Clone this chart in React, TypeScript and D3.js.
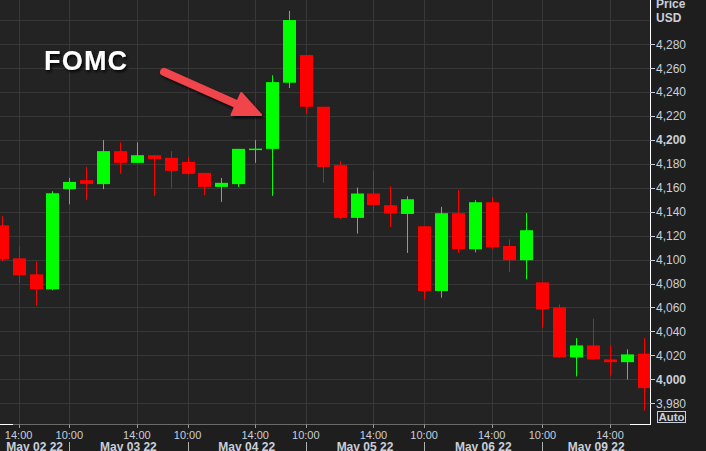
import React from "react";
import * as d3 from "d3";

// ---- data ----
const days = ["May 02 22", "May 03 22", "May 04 22", "May 05 22", "May 06 22", "May 09 22"];
const hours = ["10:00", "11:00", "12:00", "13:00", "14:00", "15:00", "16:00"];
const firstIndex = 3; // first visible candle = May 02, 13:00
const opens = [4128.7, 4101.1, 4087.7, 4075.2, 4158.9, 4166.4, 4163.1, 4190.7, 4180.9, 4187.3, 4185.1, 4181.7, 4172.5, 4160.8, 4163.1, 4192.3, 4192.6, 4247.9, 4271.0, 4227.8, 4179.0, 4134.9, 4155.3, 4145.5, 4138.2, 4127.9, 4073.8, 4138.8, 4108.7, 4148.0, 4111.4, 4099.5, 4081.0, 4060.1, 4018.3, 4028.3, 4016.6, 4014.3, 4021.4];
const highs = [4136.3, 4111.2, 4098.6, 4157.2, 4168.3, 4177.5, 4199.9, 4198.0, 4198.0, 4187.3, 4190.7, 4185.9, 4172.5, 4168.3, 4192.6, 4199.9, 4254.1, 4307.9, 4271.0, 4227.8, 4182.3, 4160.3, 4174.2, 4161.4, 4153.0, 4127.9, 4144.1, 4158.0, 4149.7, 4152.4, 4117.0, 4139.0, 4081.0, 4062.6, 4034.4, 4050.7, 4028.6, 4025.0, 4034.4];
const lows = [4098.4, 4080.2, 4061.8, 4074.4, 4146.3, 4149.7, 4158.9, 4171.7, 4180.9, 4153.3, 4160.1, 4171.0, 4153.9, 4148.3, 4160.8, 4180.9, 4153.3, 4243.4, 4222.2, 4164.2, 4134.0, 4121.8, 4139.9, 4127.3, 4105.6, 4066.8, 4068.2, 4105.6, 4106.1, 4109.0, 4089.7, 4083.5, 4042.8, 4018.0, 4002.4, 4016.0, 4002.6, 3999.8, 3973.9];
const closes = [4100.3, 4086.9, 4075.2, 4155.5, 4165.0, 4163.3, 4190.7, 4180.9, 4187.3, 4184.2, 4174.2, 4171.7, 4160.8, 4164.2, 4192.6, 4192.8, 4248.4, 4300.3, 4227.8, 4177.5, 4134.9, 4155.3, 4145.7, 4138.5, 4150.5, 4073.8, 4138.8, 4108.7, 4148.0, 4110.3, 4099.5, 4124.6, 4058.4, 4018.3, 4028.3, 4016.6, 4014.3, 4020.8, 3992.6];
const priceTicks = [3980, 4000, 4020, 4040, 4060, 4080, 4100, 4120, 4140, 4160, 4180, 4200, 4220, 4240, 4260, 4280];
const boldTicks = [4000, 4200];
const gridValues = [...priceTicks, 4300];
const timeLabels = ["14:00", "10:00"];
const annotation = "FOMC";
const annotatedCandle = 19;

const W = 706, H = 451;
const plotRight = 650, plotBottom = 424.5;

export default function App() {
  const x = d3.scaleLinear().domain([7, 39]).range([69.3, 610]);
  const y = d3.scaleLinear().domain([3980, 4280]).range([403.2, 44.3]);
  const fmt = d3.format(",");

  const candles = opens.map((o, i) => ({
    idx: firstIndex + i,
    o, h: highs[i], l: lows[i], c: closes[i],
  }));

  // time ticks (10:00 and 14:00 of each day)
  const timeTicks: { idx: number; label: string }[] = [];
  days.forEach((_, d) => {
    timeLabels.forEach((t) => {
      const idx = d * hours.length + hours.indexOf(t);
      if (x(idx) >= 0 && x(idx) <= plotRight) timeTicks.push({ idx, label: t });
    });
  });
  const dayBounds = days.map((_, d) => d * hours.length);

  const labelColor = "#c9cfda";
  const font = "'Liberation Sans', Arial, sans-serif";

  // arrow geometry (anchored to annotated candle)
  const tip = [x(annotatedCandle) - 11, y(4221)];
  const start = [x(annotatedCandle) - 108, y(4257)];
  const dx = tip[0] - start[0], dy = tip[1] - start[1];
  const len = Math.hypot(dx, dy);
  const ux = dx / len, uy = dy / len;
  const headL = 27, headW = 12;
  const base = [tip[0] - ux * headL, tip[1] - uy * headL];
  const shaftEnd = [tip[0] - ux * (headL - 4), tip[1] - uy * (headL - 4)];
  const head = [
    tip,
    [base[0] - uy * headW, base[1] + ux * headW],
    [base[0] + uy * headW, base[1] - ux * headW],
  ];

  return (
    <svg width={W} height={H} style={{ position: "fixed", left: 0, top: 0, display: "block" }}>
      <defs>
        <clipPath id="plot">
          <rect x={0} y={0} width={plotRight} height={plotBottom} />
        </clipPath>
        <filter id="shadow" x="-20%" y="-20%" width="140%" height="160%">
          <feDropShadow dx="1.5" dy="2" stdDeviation="1.8" floodColor="#000" floodOpacity="0.9" />
        </filter>
      </defs>
      <rect width={W} height={H} fill="#1e1e1e" />
      <rect width={plotRight} height={plotBottom} fill="#232323" />
      <g clipPath="url(#plot)">
        {gridValues.map((v) => (
          <line key={"h" + v} x1={0} x2={plotRight} y1={Math.round(y(v)) + 0.5} y2={Math.round(y(v)) + 0.5} stroke="#383838" />
        ))}
        {timeTicks.map((t) => (
          <line key={"v" + t.idx} x1={Math.round(x(t.idx)) + 0.5} x2={Math.round(x(t.idx)) + 0.5} y1={0} y2={plotBottom} stroke="#383838" />
        ))}
        {candles.map((c) => {
          const up = c.c >= c.o;
          const col = up ? "#00ff00" : "#ff0000";
          const cx = Math.round(x(c.idx));
          const top = y(Math.max(c.o, c.c));
          const bot = y(Math.min(c.o, c.c));
          return (
            <g key={c.idx}>
              <line x1={cx + 0.5} x2={cx + 0.5} y1={y(c.h)} y2={y(c.l)} stroke={col} strokeWidth={1} />
              <rect x={cx - 6} y={top} width={13} height={Math.max(bot - top, 1.5)} fill={col} />
            </g>
          );
        })}
        <g filter="url(#shadow)">
          <line x1={start[0]} y1={start[1]} x2={shaftEnd[0]} y2={shaftEnd[1]} stroke="#ef454c" strokeWidth={8} strokeLinecap="round" />
          <polygon points={head.map((p) => p.join(",")).join(" ")} fill="#ef454c" stroke="#ef454c" strokeWidth={2} strokeLinejoin="round" />
        </g>
        <text x={44} y={70} fill="#ffffff" fontFamily={font} fontWeight="bold" fontSize={27} letterSpacing={1.2} filter="url(#shadow)">
          {annotation}
        </text>
      </g>

      {/* right axis */}
      <line x1={plotRight + 0.5} x2={plotRight + 0.5} y1={0} y2={plotBottom} stroke="#ffffff" />
      {priceTicks.map((v) => (
        <g key={"t" + v}>
          <line x1={plotRight} x2={plotRight + 5} y1={Math.round(y(v)) + 0.5} y2={Math.round(y(v)) + 0.5} stroke="#c9cfda" />
          <text x={plotRight + 6} y={y(v)} dy="0.36em" fill={labelColor} fontFamily={font} fontSize={12}
            fontWeight={boldTicks.includes(v) ? "bold" : "normal"}>
            {fmt(v)}
          </text>
        </g>
      ))}
      <text x={656} y={8} fill={labelColor} fontFamily={font} fontSize={12} fontWeight="bold">Price</text>
      <text x={656} y={21.5} fill={labelColor} fontFamily={font} fontSize={12} fontWeight="bold">USD</text>
      <rect x={657.5} y={411.5} width={28} height={11} fill="none" stroke={labelColor} />
      <text x={671.5} y={421} textAnchor="middle" fill={labelColor} fontFamily={font} fontSize={11.5} fontWeight="bold">Auto</text>

      {/* bottom axis */}
      <line x1={0} x2={plotRight} y1={plotBottom} y2={plotBottom} stroke="#6a6a6a" />
      <line x1={0} x2={13} y1={plotBottom} y2={plotBottom} stroke="#ffffff" />
      <line x1={630} x2={plotRight + 1} y1={plotBottom} y2={plotBottom} stroke="#ffffff" />
      {timeTicks.map((t) => (
        <g key={"tt" + t.idx}>
          <line x1={Math.round(x(t.idx)) + 0.5} x2={Math.round(x(t.idx)) + 0.5} y1={plotBottom} y2={plotBottom + 3.5} stroke="#9a9a9a" />
          <text x={x(t.idx)} y={438.5} textAnchor="middle" fill={labelColor} fontFamily={font} fontSize={11}>
            {t.label}
          </text>
        </g>
      ))}
      {dayBounds.filter((b) => x(b) > 0 && x(b) < plotRight).map((b) => (
        <line key={"db" + b} x1={Math.round(x(b)) + 0.5} x2={Math.round(x(b)) + 0.5} y1={442} y2={H} stroke="#b0b0b0" />
      ))}
      {days.map((d, i) => {
        const l = Math.max(0, x(dayBounds[i]));
        const r = Math.min(plotRight, x(dayBounds[i] + hours.length));
        if (r <= l) return null;
        return (
          <text key={d} x={(l + r) / 2} y={451} textAnchor="middle" fill={labelColor} fontFamily={font} fontSize={12} fontWeight="bold">
            {d}
          </text>
        );
      })}
    </svg>
  );
}
